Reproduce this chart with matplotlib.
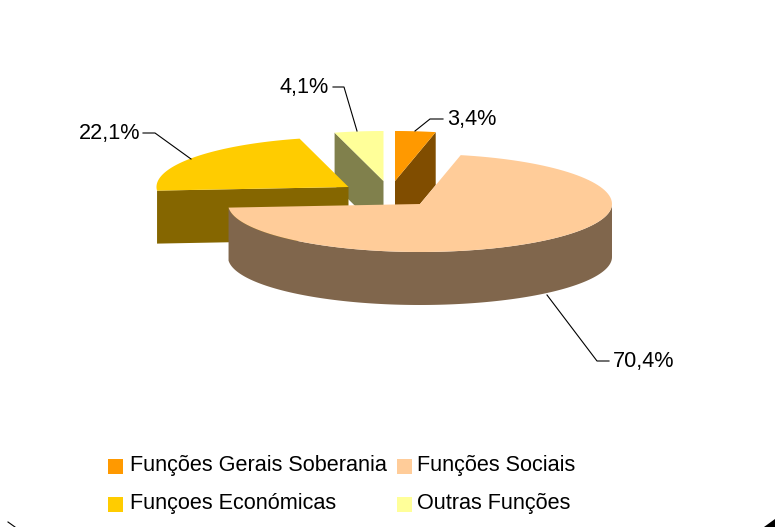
import numpy as np
import matplotlib
matplotlib.use("Agg")
import matplotlib.pyplot as plt
from matplotlib.patches import Polygon, Rectangle

plt.rcParams['font.family'] = ['Liberation Sans', 'DejaVu Sans']

categories = ["Funções Gerais Soberania", "Funções Sociais", "Funçoes Económicas", "Outras Funções"]
shares = [3.4, 70.4, 22.1, 4.1]
share_labels = ["3,4%", "70,4%", "22,1%", "4,1%"]

top_colors = ["#FF9900", "#FFCC99", "#FFCC00", "#FFFF99"]
side_colors = ["#804D00", "#80664C", "#856600", "#80804C"]

# apex of each exploded slice on the page, in pixels
apex = [(395, 181), (420, 204), (348.5, 187), (383.5, 181)]
rx = 192
ry_back, ry_front = 50, 48
depth = 53

# which end of the rim carries the visible cut face (None = outer wall instead)
cut_face = [-1, None, 0, 0]

# leader lines run from the rim to the label
leaders = [
    [(415, 131), (430, 119), (443, 119)],
    [(547, 295), (597, 361), (609, 361)],
    [(191, 159), (155, 133), (143, 133)],
    [(357, 131), (344, 87), (333, 87)],
]
label_pos = [(447, 119.5), (612.5, 362), (140, 134), (329, 87.5)]
label_align = ["left", "left", "right", "right"]

legend_box = [(108, 459), (397, 459), (108, 497), (397, 497)]
legend_text_x = [130, 417, 130, 417]


def rim(center, a0, a1, n=120):
    # clockwise angles from 12 o'clock, squashed into an ellipse
    t = np.radians(np.linspace(a0, a1, n))
    c = np.cos(t)
    ry = np.where(c > 0, ry_back, ry_front)
    return np.column_stack((center[0] + rx * np.sin(t), center[1] - ry * c))


fig = plt.figure(figsize=(7.75, 5.27), dpi=100)
ax = fig.add_axes([0, 0, 1, 1])
ax.set_xlim(0, 775)
ax.set_ylim(527, 0)
ax.axis("off")

starts = np.concatenate(([0], np.cumsum(shares)[:-1])) * 3.6
ends = np.cumsum(shares) * 3.6
drop = np.array([0, depth])

# back slices first, the large front slice covers their lower part
for i in [0, 3, 2, 1]:
    c = np.array(apex[i], dtype=float)
    edge = rim(c, starts[i], ends[i])
    if cut_face[i] is None:
        wall = rim(c, 90, ends[i])
        side = np.vstack((wall, (wall + drop)[::-1]))
    else:
        p = edge[cut_face[i]]
        side = [c, p, p + drop, c + drop]
    ax.add_patch(Polygon(side, closed=True, fc=side_colors[i], ec="none"))
    ax.add_patch(Polygon(np.vstack((c, edge)), closed=True, fc=top_colors[i], ec="none"))

for pts in leaders:
    xs, ys = zip(*pts)
    ax.plot(xs, ys, color="black", lw=0.8, solid_joinstyle="miter")

for i in range(len(shares)):
    ax.text(label_pos[i][0], label_pos[i][1], share_labels[i], ha=label_align[i], va="center",
            fontsize=15.6, color="black")

for i in range(len(categories)):
    x, y = legend_box[i]
    ax.add_patch(Rectangle((x, y), 14.5, 14.5, fc=top_colors[i], ec="none"))
    ax.text(legend_text_x[i], y + 6, categories[i], ha="left", va="center", fontsize=15.6, color="black")

# page corners showing behind the rounded chart area
ax.add_patch(Polygon([(764, 527), (775, 519), (775, 527)], closed=True, fc="black", ec="none"))
ax.plot([8, 15], [522, 527], color="black", lw=0.8)

fig.savefig("out.png", dpi=100, facecolor="white")
